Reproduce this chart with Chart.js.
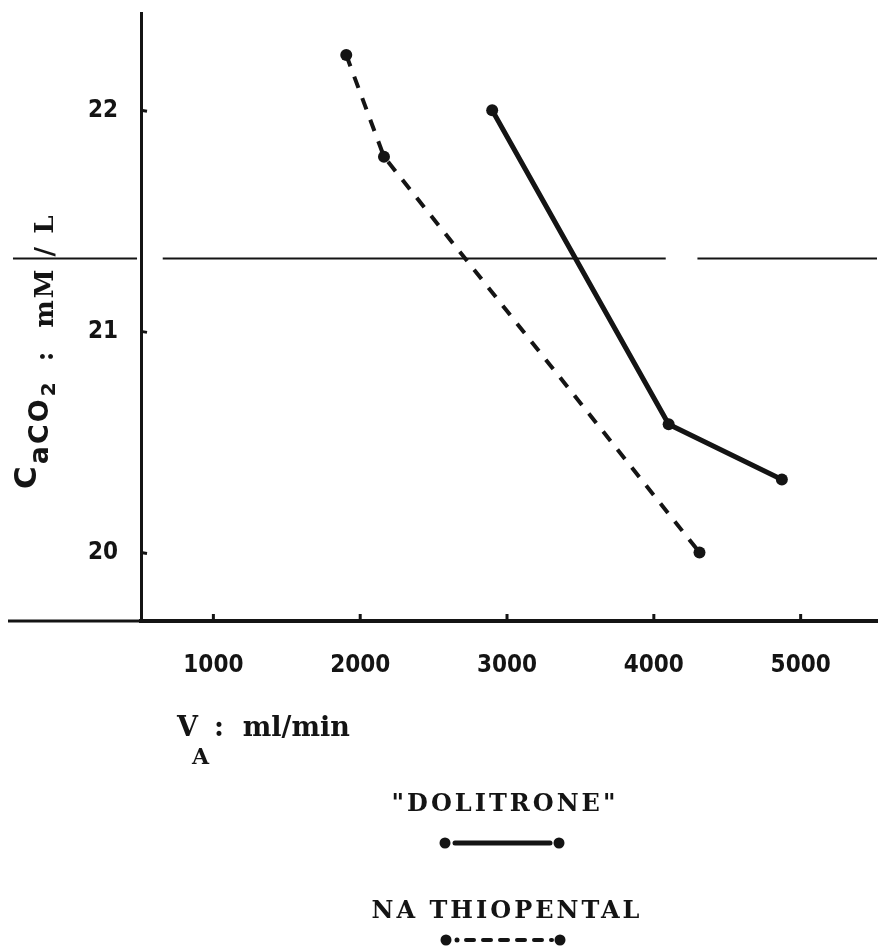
<!DOCTYPE html>
<html>
<head>
<meta charset="utf-8">
<script src="https://cdn.jsdelivr.net/npm/chart.js@4.4.1/dist/chart.umd.min.js"></script>
<style>
html, body { margin: 0; padding: 0; background: #fff; }
#wrap { width: 883px; height: 951px; }
</style>
</head>
<body>
<div id="wrap"><canvas id="chart" width="883" height="951"></canvas></div>
<script>
const dolitroneX = [2899, 4101, 4872];
const dolitroneY = [22.0, 20.58, 20.33];
const thiopentalX = [1905, 2162, 4311];
const thiopentalY = [22.25, 21.79, 20.0];
const refLineY = 21.33;
// pieces of the horizontal reference line (the left one runs past the y axis)
const refSegments = [[655, 4081], [4297, 5520], [-365, 480]];
const xTickValues = [1000, 2000, 3000, 4000, 5000];
const yTickValues = [20, 21, 22];
const legendLabels = ['"DOLITRONE"', 'NA THIOPENTAL'];

const ink = '#141414';
const serif = "'DejaVu Serif', 'Liberation Serif', serif";
const sans = "'DejaVu Sans', sans-serif";
const tickFont = "'Liberation Sans Narrow', 'DejaVu Sans Condensed', sans-serif";

function toPoints(xs, ys) {
    return xs.map((x, i) => ({ x: x, y: ys[i] }));
}

function refLineData() {
    const pts = [];
    refSegments.forEach((seg, i) => {
        if (i > 0) pts.push({ x: seg[0], y: null });
        pts.push({ x: seg[0], y: refLineY }, { x: seg[1], y: refLineY });
    });
    return pts;
}

function drawText(ctx, text, x, y, font, align, spacing) {
    ctx.font = font;
    ctx.letterSpacing = (spacing || 0) + 'px';
    ctx.textAlign = align || 'left';
    ctx.fillText(text, x, y);
    const w = ctx.measureText(text).width;
    ctx.letterSpacing = '0px';
    return w;
}

const decorations = {
    id: 'decorations',
    afterDraw(chart) {
        const ctx = chart.ctx;
        const area = chart.chartArea;
        const xs = chart.scales.x;
        const ys = chart.scales.y;
        ctx.save();
        ctx.fillStyle = ink;
        ctx.strokeStyle = ink;
        ctx.textBaseline = 'alphabetic';

        // x axis runs on to the left of the y axis
        ctx.lineWidth = 3;
        ctx.beginPath();
        ctx.moveTo(8, area.bottom);
        ctx.lineTo(area.left, area.bottom);
        ctx.stroke();

        // small inward ticks
        ctx.lineWidth = 3;
        yTickValues.forEach(v => {
            const py = ys.getPixelForValue(v);
            ctx.beginPath();
            ctx.moveTo(area.left, py);
            ctx.lineTo(area.left + 6, py + 1);
            ctx.stroke();
        });
        xTickValues.forEach(v => {
            const px = xs.getPixelForValue(v);
            ctx.beginPath();
            ctx.moveTo(px, area.bottom);
            ctx.lineTo(px, area.bottom - 7);
            ctx.stroke();
        });

        // y axis title, written bottom to top
        ctx.save();
        ctx.rotate(-Math.PI / 2);
        let t = -489;
        t += drawText(ctx, 'C', t, 36, 'bold 31px ' + sans);
        t += 2;
        t += drawText(ctx, 'aCO', t, 48, 'bold 27px ' + sans, 'left', 2);
        t += drawText(ctx, '2', t + 1, 55, 'bold 20px ' + sans);
        t += 22;
        t += drawText(ctx, ':', t, 53, 'bold 26px ' + serif);
        t += 24;
        drawText(ctx, 'mM / L', t, 53, 'bold 26px ' + serif, 'left', 2);
        ctx.restore();

        // x axis title
        drawText(ctx, 'V', 177, 736, 'bold 27px ' + serif);
        drawText(ctx, 'A', 192, 764, 'bold 22px ' + serif);
        drawText(ctx, ':  ml/min', 214, 736, 'bold 27px ' + serif);

        // legend
        drawText(ctx, legendLabels[0], 505, 811, 'bold 24px ' + serif, 'center', 3);
        drawText(ctx, legendLabels[1], 507, 918, 'bold 24px ' + serif, 'center', 3);

        ctx.lineWidth = 5;
        ctx.lineCap = 'round';
        ctx.beginPath();
        ctx.moveTo(455, 843);
        ctx.lineTo(550, 843);
        ctx.stroke();
        [445, 559].forEach(cx => {
            ctx.beginPath();
            ctx.arc(cx, 843, 5.5, 0, Math.PI * 2);
            ctx.fill();
        });

        ctx.lineWidth = 4;
        ctx.setLineDash([8, 9]);
        ctx.beginPath();
        ctx.moveTo(466, 940);
        ctx.lineTo(552, 940);
        ctx.stroke();
        ctx.setLineDash([]);
        ctx.beginPath();
        ctx.arc(457, 940, 2.5, 0, Math.PI * 2);
        ctx.fill();
        [446, 560].forEach(cx => {
            ctx.beginPath();
            ctx.arc(cx, 940, 5.5, 0, Math.PI * 2);
            ctx.fill();
        });
        ctx.restore();
    }
};

new Chart(document.getElementById('chart').getContext('2d'), {
    type: 'scatter',
    data: {
        datasets: [
            {
                label: legendLabels[0],
                data: toPoints(dolitroneX, dolitroneY),
                showLine: true,
                borderColor: ink,
                backgroundColor: ink,
                borderWidth: 5,
                pointRadius: 6,
                pointBorderWidth: 0
            },
            {
                label: legendLabels[1],
                data: toPoints(thiopentalX, thiopentalY),
                showLine: true,
                borderColor: ink,
                backgroundColor: ink,
                borderWidth: 4,
                borderDash: [12, 11],
                pointRadius: 6,
                pointBorderWidth: 0
            },
            {
                label: 'ref',
                data: refLineData(),
                showLine: true,
                spanGaps: false,
                borderColor: ink,
                borderWidth: 2,
                pointRadius: 0,
                clip: false
            }
        ]
    },
    options: {
        responsive: false,
        animation: false,
        layout: { padding: { top: 13, right: 2, bottom: 0, left: 0 } },
        plugins: {
            legend: { display: false },
            tooltip: { enabled: false }
        },
        scales: {
            x: {
                type: 'linear',
                min: 507,
                max: 5520,
                afterFit: s => { s.height = 330; s.paddingLeft = 0; s.paddingRight = 0; },
                afterBuildTicks: s => { s.ticks = xTickValues.map(v => ({ value: v })); },
                grid: { display: false, drawTicks: false },
                border: { display: true, color: ink, width: 4 },
                ticks: {
                    color: ink,
                    padding: 30,
                    callback: v => String(v),
                    font: { family: tickFont, size: 24, weight: 'bold' }
                }
            },
            y: {
                type: 'linear',
                min: 19.69,
                max: 22.44,
                afterFit: s => { s.width = 141; s.paddingTop = 0; s.paddingBottom = 0; },
                afterBuildTicks: s => { s.ticks = yTickValues.map(v => ({ value: v })); },
                grid: { display: false, drawTicks: false },
                border: { display: true, color: ink, width: 3 },
                ticks: {
                    color: ink,
                    padding: 23,
                    callback: v => String(v),
                    font: { family: tickFont, size: 24, weight: 'bold' }
                }
            }
        }
    },
    plugins: [decorations]
});
</script>
</body>
</html>
